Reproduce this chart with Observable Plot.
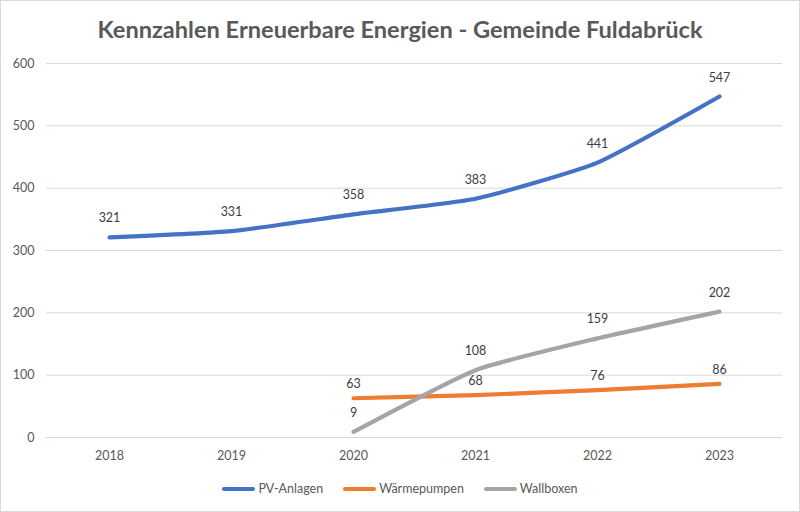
<!DOCTYPE html>
<html>
<head>
<meta charset="utf-8">
<script src="https://cdn.jsdelivr.net/npm/d3@7"></script>
<script src="https://cdn.jsdelivr.net/npm/@observablehq/plot@0.6"></script>
<style>
  body { margin: 0; background: #fff; }
  #chart { position: relative; width: 800px; height: 512px; box-sizing: border-box; border: 1px solid #d9d9d9; background: #fff; font-family: Lato, "Open Sans", sans-serif; }
  #title { height: 47px; line-height: 56px; text-align: center; font-size: 23.6px; font-weight: bold; color: #595959; }
  #legend { display: flex; justify-content: center; align-items: center; gap: 20px; font-size: 12.5px; color: #595959; margin-top: 3px; margin-left: 0px; }
  .item { display: flex; align-items: center; gap: 3px; }
  .sw { width: 33px; height: 4px; border-radius: 2px; }
  svg { display: block; }
</style>
</head>
<body>
<div id="chart">
  <div id="title">Kennzahlen Erneuerbare Energien - Gemeinde Fuldabrück</div>
  <div id="plot"></div>
  <div id="legend"></div>
</div>
<script>
const years = ["2018", "2019", "2020", "2021", "2022", "2023"];
const seriesNames = ["PV-Anlagen", "Wärmepumpen", "Wallboxen"];
const colors = ["#4472C4", "#ED7D31", "#A5A5A5"];
const pvAnlagen = [321, 331, 358, 383, 441, 547];
const waermepumpen = [null, null, 63, 68, 76, 86];
const wallboxen = [null, null, 9, 108, 159, 202];
const yTicks = [0, 100, 200, 300, 400, 500, 600];
const labelOffsets = [-19, -14, -19];

const values = [pvAnlagen, waermepumpen, wallboxen];
const data = [];
values.forEach((arr, s) => arr.forEach((v, i) => {
  data.push({series: seriesNames[s], year: years[i], value: v});
}));

const shadow = "drop-shadow(1px 2px 1.5px rgba(0,0,0,0.3))";
const marks = [Plot.gridY(yTicks, {stroke: "#d9d9d9", strokeOpacity: 1, strokeWidth: 1})];
seriesNames.forEach((name, s) => {
  const d = data.filter(r => r.series === name && r.value != null);
  marks.push(Plot.line(d, {x: "year", y: "value", stroke: colors[s], strokeWidth: 4.2, curve: "cardinal", tension: 0.5, style: {filter: shadow}}));
});
seriesNames.forEach((name, s) => {
  const d = data.filter(r => r.series === name && r.value != null);
  marks.push(Plot.text(d, {x: "year", y: "value", text: r => String(r.value), dy: labelOffsets[s], fill: "#404040", fontSize: 12.5}));
});

const plot = Plot.plot({
  width: 798,
  height: 430,
  marginTop: 15,
  marginBottom: 41,
  marginLeft: 45,
  marginRight: 17,
  style: {fontFamily: "Lato, 'Open Sans', sans-serif", fontSize: "12.5px", color: "#595959", background: "white"},
  x: {type: "point", domain: years, padding: 0.5, label: null, tickSize: 0, tickPadding: 14},
  y: {domain: [0, 600], ticks: yTicks, label: null, tickSize: 0, tickPadding: 12},
  marks
});
document.getElementById("plot").appendChild(plot);

const legend = document.getElementById("legend");
seriesNames.forEach((name, s) => {
  const it = document.createElement("div");
  it.className = "item";
  const sw = document.createElement("div");
  sw.className = "sw";
  sw.style.background = colors[s];
  const t = document.createElement("span");
  t.textContent = name;
  it.appendChild(sw); it.appendChild(t);
  legend.appendChild(it);
});
</script>
</body>
</html>
